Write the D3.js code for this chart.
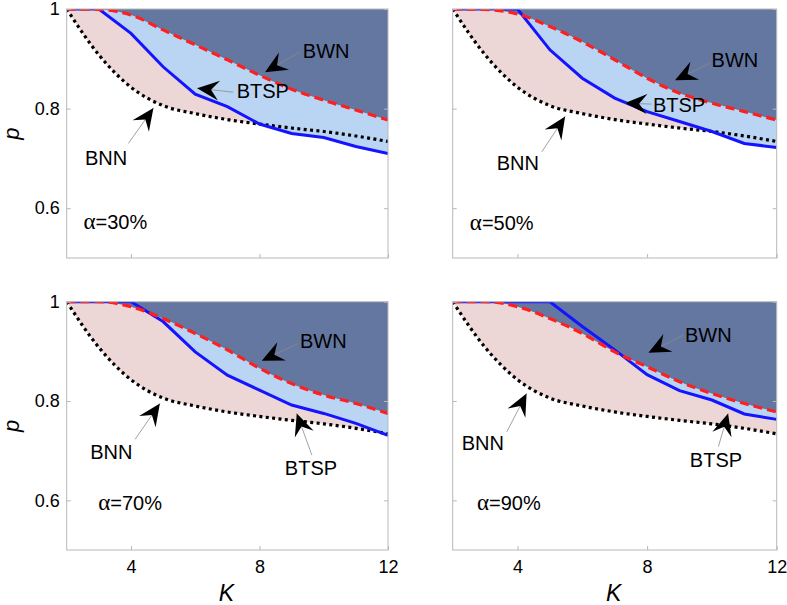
<!DOCTYPE html>
<html><head><meta charset="utf-8">
<script src="https://cdn.jsdelivr.net/npm/d3@7"></script>
<style>
body{margin:0;background:#fff}
svg{display:block}
text{font-family:Arial,"Liberation Sans",sans-serif}
</style>
</head><body>
<svg id="c" width="787" height="605"></svg>
<script>
// ---------- data ----------
const K = [2, 3, 4, 5, 6, 7, 8, 9, 10, 11, 12];
const xTicks = [4, 8, 12];
const yTicks = [0.6, 0.8, 1];
const alphas = ["30%", "50%", "70%", "90%"];

const bnn = [1, 0.908, 0.843, 0.806, 0.790, 0.778, 0.769, 0.761, 0.754, 0.745, 0.734];

const btsp30 = [1, 1, 0.951, 0.884, 0.829, 0.804, 0.769, 0.750, 0.742, 0.724, 0.710];
const bwn30  = [1, 0.999, 0.988, 0.958, 0.928, 0.898, 0.867, 0.839, 0.817, 0.797, 0.777];

const btsp50 = [1, 1, 1, 0.918, 0.861, 0.821, 0.794, 0.774, 0.754, 0.730, 0.722];
const bwn50  = [1, 0.999, 0.990, 0.965, 0.934, 0.898, 0.861, 0.831, 0.811, 0.794, 0.777];

const btsp70 = [1, 1, 1, 0.960, 0.899, 0.852, 0.822, 0.792, 0.775, 0.755, 0.731];
const bwn70  = [1, 1, 0.990, 0.966, 0.936, 0.903, 0.866, 0.835, 0.812, 0.795, 0.775];

const btsp90 = [1, 1, 1, 1, 0.950, 0.903, 0.853, 0.821, 0.802, 0.774, 0.763];
const bwn90  = [1, 1, 0.990, 0.966, 0.936, 0.899, 0.869, 0.839, 0.815, 0.795, 0.778];

// annotation anchors in data units [K, p]
const annot30 = [
  {label: "BWN",  text: [9.35, 0.902], from: [9.26, 0.914], tip: [8.17, 0.873]},
  {label: "BTSP", text: [7.29, 0.821], from: [7.18, 0.833], tip: [6.06, 0.841]},
  {label: "BNN",  text: [2.57, 0.687], from: [3.92, 0.730], tip: [4.70, 0.801]}
];
const annot50 = [
  {label: "BWN",  text: [9.99, 0.884], from: [9.94, 0.891], tip: [8.86, 0.857]},
  {label: "BTSP", text: [8.18, 0.794], from: [8.14, 0.809], tip: [7.32, 0.811]},
  {label: "BNN",  text: [3.36, 0.677], from: [4.75, 0.713], tip: [5.47, 0.784]}
];
const annot70 = [
  {label: "BWN",  text: [9.26, 0.906], from: [9.21, 0.916], tip: [8.07, 0.881]},
  {label: "BTSP", text: [8.79, 0.651], from: [9.63, 0.691], tip: [9.16, 0.775]},
  {label: "BNN",  text: [2.73, 0.684], from: [4.13, 0.723], tip: [4.90, 0.795]}
];
const annot90 = [
  {label: "BWN",  text: [9.17, 0.919], from: [9.12, 0.933], tip: [8.04, 0.897]},
  {label: "BTSP", text: [9.32, 0.667], from: [10.2, 0.708], tip: [10.5, 0.775]},
  {label: "BNN",  text: [2.28, 0.701], from: [3.67, 0.738], tip: [4.28, 0.815]}
];
const alphaPos = [[2.52, 0.558], [2.53, 0.556], [2.98, 0.580], [2.75, 0.580]];

// ---------- layout ----------
const panels = [
  {btsp: btsp30, bwn: bwn30, annot: annot30, x0: 66.7,  x1: 388,   y0: 9,     y1: 258, left: true,  bottom: false},
  {btsp: btsp50, bwn: bwn50, annot: annot50, x0: 452.7, x1: 776.7, y0: 9,     y1: 258, left: false, bottom: false},
  {btsp: btsp70, bwn: bwn70, annot: annot70, x0: 66.7,  x1: 388,   y0: 301.7, y1: 550, left: true,  bottom: true},
  {btsp: btsp90, bwn: bwn90, annot: annot90, x0: 452.7, x1: 776.7, y0: 301.7, y1: 550, left: false, bottom: true}
];

const C = {
  dark: "#6377a1", light: "#bad5f3", pink: "#edd6d6",
  red: "#ff1f1f", blue: "#1414ff", frame: "#b8b8b8"
};

const svg = d3.select("#c");

panels.forEach((P, i) => {
  const x = d3.scaleLinear().domain([2, 12]).range([P.x0, P.x1]);
  const y = d3.scaleLinear().domain([0.5, 1]).range([P.y1, P.y0]);
  const g = svg.append("g");
  const clipId = "clip" + i;
  g.append("clipPath").attr("id", clipId).append("rect")
    .attr("x", P.x0).attr("y", P.y0).attr("width", P.x1 - P.x0).attr("height", P.y1 - P.y0);

  const pts = arr => K.map((k, j) => [k, arr[j]]);
  const areaTop = (curve) => d3.area().x(d => x(d[0])).y0(y(1)).y1(d => y(d[1])).curve(curve);
  const line = (curve) => d3.line().x(d => x(d[0])).y(d => y(d[1])).curve(curve);

  const plot = g.append("g").attr("clip-path", `url(#${clipId})`);
  plot.append("path").attr("d", areaTop(d3.curveMonotoneX)(pts(bnn))).attr("fill", C.pink);
  plot.append("path").attr("d", areaTop(d3.curveLinear)(pts(P.btsp))).attr("fill", C.light);
  plot.append("path").attr("d", areaTop(d3.curveMonotoneX)(pts(P.bwn))).attr("fill", C.dark);

  // frame
  g.append("rect").attr("x", P.x0).attr("y", P.y0).attr("width", P.x1 - P.x0).attr("height", P.y1 - P.y0)
    .attr("fill", "none").attr("stroke", C.frame).attr("stroke-width", 1);

  // axes
  const ax = d3.axisBottom(x).tickValues(xTicks).tickSize(-4).tickPadding(10);
  const axG = g.append("g").attr("transform", `translate(0,${P.y1})`).call(ax);
  const ay = d3.axisLeft(y).tickValues(yTicks).tickSize(-4).tickPadding(7).tickFormat(d => String(d));
  const ayG = g.append("g").attr("transform", `translate(${P.x0},0)`).call(ay);
  const ayR = g.append("g").attr("transform", `translate(${P.x1},0)`)
    .call(d3.axisRight(y).tickValues(yTicks).tickSize(-4).tickFormat(""));
  [axG, ayG, ayR].forEach(a => {
    a.select(".domain").remove();
    a.selectAll(".tick line").attr("stroke", C.frame);
    a.selectAll(".tick text").attr("fill", "#000").style("font-size", "18px")
      .style("font-family", "Arial, 'Liberation Sans', sans-serif");
  });
  if (!P.bottom) axG.selectAll(".tick text").remove();
  if (!P.left) ayG.selectAll(".tick text").remove();

  // lines
  plot.append("path").attr("d", line(d3.curveMonotoneX)(pts(bnn)))
    .attr("fill", "none").attr("stroke", "#000").attr("stroke-width", 3.2).attr("stroke-dasharray", "3,3.4");
  plot.append("path").attr("d", line(d3.curveLinear)(pts(P.btsp)))
    .attr("fill", "none").attr("stroke", C.blue).attr("stroke-width", 3);
  plot.append("path").attr("d", line(d3.curveMonotoneX)(pts(P.bwn)))
    .attr("fill", "none").attr("stroke", C.red).attr("stroke-width", 3.2).attr("stroke-dasharray", "9,5");

  // annotations
  P.annot.forEach(a => {
    const fx = x(a.from[0]), fy = y(a.from[1]);
    const tx = x(a.tip[0]), ty = y(a.tip[1]);
    const ang = Math.atan2(ty - fy, tx - fx) * 180 / Math.PI;
    g.append("line").attr("x1", fx).attr("y1", fy).attr("x2", tx).attr("y2", ty)
      .attr("stroke", "#8a8a8a").attr("stroke-width", 0.8);
    g.append("path").attr("d", "M0,0 L-22,-10 L-14,0 L-22,10 Z")
      .attr("transform", `translate(${tx},${ty}) rotate(${ang})`).attr("fill", "#000");
    g.append("text").attr("x", x(a.text[0])).attr("y", y(a.text[1]))
      .style("font-size", "20px").attr("fill", "#000").text(a.label);
  });

  // alpha label
  const t = g.append("text").attr("x", x(alphaPos[i][0])).attr("y", y(alphaPos[i][1]))
    .style("font-size", "20px").attr("fill", "#000");
  t.append("tspan").style("font-family", "'Liberation Serif','Times New Roman',serif").style("font-size", "23px").text("α");
  t.append("tspan").text("=" + alphas[i]);

  // axis titles
  if (P.left) {
    g.append("text").attr("transform", `translate(${19},${(P.y0 + P.y1) / 2}) rotate(-90)`)
      .attr("text-anchor", "middle").style("font-size", "22px").style("font-style", "italic").text("p");
  }
  if (P.bottom) {
    g.append("text").attr("x", (P.x0 + P.x1) / 2 - 1).attr("y", 601)
      .attr("text-anchor", "middle").style("font-size", "23px").style("font-style", "italic").text("K");
  }
});
</script>
</body></html>
